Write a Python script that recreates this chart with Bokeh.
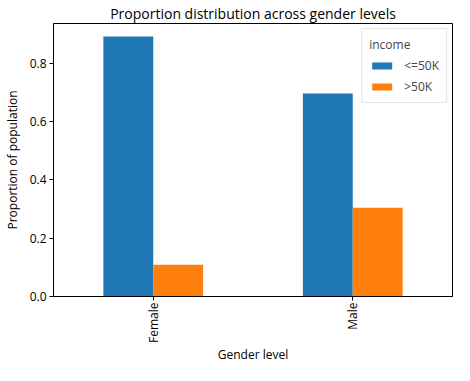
import math
from bokeh.plotting import figure
from bokeh.models import ColumnDataSource, Range1d, Legend, LegendItem, FixedTicker
from bokeh.transform import dodge
from bokeh.embed import file_html
from bokeh.resources import INLINE

genders = ["Female", "Male"]
le50k = [0.891, 0.696]
gt50k = [0.109, 0.304]

src = ColumnDataSource(dict(x=[0, 1], le=le50k, gt=gt50k))

FONT = "Open Sans"

p = figure(width=454, height=365, output_backend="svg", toolbar_location=None,
           x_range=Range1d(-0.5, 1.5), y_range=Range1d(0, 0.9355),
           title="Proportion distribution across gender levels",
           min_border_left=45, min_border_right=2, min_border_top=15, min_border_bottom=60)

r1 = p.vbar(x=dodge("x", -0.125), top="le", width=0.25, source=src,
            fill_color="#1f77b4", line_color=None)
r2 = p.vbar(x=dodge("x", 0.125), top="gt", width=0.25, source=src,
            fill_color="#ff7f0e", line_color=None)

p.title.text_font = FONT
p.title.text_font_size = "14px"
p.title.text_font_style = "normal"
p.title.align = "center"
p.title.text_color = "#000000"
p.title.standoff = 2
p.title.offset = 0

p.xgrid.visible = False
p.ygrid.visible = False
p.outline_line_color = "#000000"
p.outline_line_width = 1
p.background_fill_color = "white"
p.border_fill_color = "white"

p.xaxis.ticker = FixedTicker(ticks=[0, 1])
p.xaxis.major_label_overrides = {0: genders[0], 1: genders[1]}
p.xaxis.major_label_orientation = math.pi / 2
p.yaxis.ticker = FixedTicker(ticks=[0.0, 0.2, 0.4, 0.6, 0.8])
p.yaxis.major_label_overrides = {0.0: "0.0", 0.2: "0.2", 0.4: "0.4", 0.6: "0.6", 0.8: "0.8"}

for ax in (p.xaxis, p.yaxis):
    ax.major_tick_in = 0
    ax.major_tick_out = 4
    ax.minor_tick_line_color = None
    ax.axis_line_color = "#000000"
    ax.major_tick_line_color = "#000000"
    ax.major_label_text_font = FONT
    ax.major_label_text_font_size = "12px"
    ax.major_label_text_color = "#000000"
    ax.major_label_standoff = 3
    ax.axis_label_text_font = FONT
    ax.axis_label_text_font_size = "12px"
    ax.axis_label_text_font_style = "normal"
    ax.axis_label_text_color = "#000000"

p.xaxis.major_label_standoff = 2
p.xaxis.axis_label = "Gender level"
p.yaxis.axis_label = "Proportion of population"
p.xaxis.axis_label_standoff = 0
p.yaxis.axis_label_standoff = 6

legend = Legend(items=[LegendItem(label="<=50K", renderers=[r1]),
                       LegendItem(label=">50K", renderers=[r2])],
                location="top_right", title="income")
legend.title_text_font = FONT
legend.title_text_font_size = "12px"
legend.title_text_font_style = "normal"
legend.title_standoff = 4
legend.label_text_font = FONT
legend.label_text_font_size = "12px"
legend.glyph_width = 25
legend.glyph_height = 9
legend.spacing = 4
legend.padding = 7
legend.margin = 5
legend.label_standoff = 10
legend.border_line_color = "#cccccc"
legend.background_fill_alpha = 0.8
p.add_layout(legend)

open("out.html", "w").write(file_html(p, INLINE))
